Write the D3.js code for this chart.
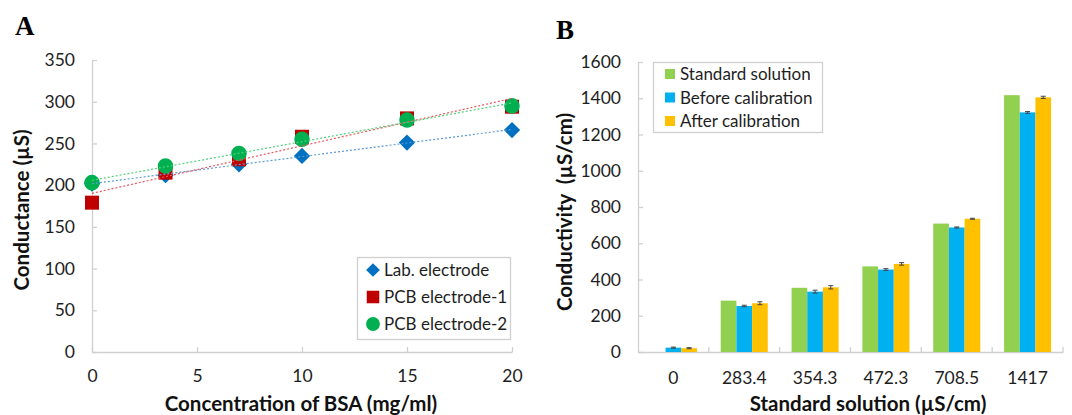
<!DOCTYPE html>
<html>
<head>
<meta charset="utf-8">
<script src="https://cdn.jsdelivr.net/npm/d3@7"></script>
<style>
  body { margin: 0; background: #fff; }
  svg { display: block; }
</style>
</head>
<body>
<div id="chart"></div>
<script>
// ---- data: panel A (conductance vs BSA) ----
const bsaConc = [0, 3.5, 7, 10, 15, 20];
const labElectrode = [202, 212, 225, 235, 251, 266];
const pcbElectrode1 = [179, 215, 231, 258, 280, 294];
const pcbElectrode2 = [203, 223, 238, 255, 278, 295];
const aTicksX = [0, 5, 10, 15, 20];
const aTicksY = [0, 50, 100, 150, 200, 250, 300, 350];

// ---- data: panel B (conductivity bars) ----
const standards = ["0", "283.4", "354.3", "472.3", "708.5", "1417"];
const standardVals = [0, 283.4, 354.3, 472.3, 708.5, 1417];
const beforeVals = [24, 254, 333, 455, 687, 1322];
const afterVals = [21, 269, 357, 486, 735, 1405];
const beforeErr = [3, 4, 8, 5, 3, 5];
const afterErr = [3, 8, 9, 7, 3, 6];
const bSeries = ["Standard solution", "Before calibration", "After calibration"];
const bTicksY = [0, 200, 400, 600, 800, 1000, 1200, 1400, 1600];

const W = 1072, H = 415;
const axisColor = "#d0d0d0";
const labelColor = "#1e1e1e";
const sans = "Lato, 'Open Sans', sans-serif";
const serif = "'Liberation Serif', 'DejaVu Serif', serif";

const svg = d3.select("#chart").append("svg")
    .attr("width", W)
    .attr("height", H)
    .style("font-family", sans);

// 軸のスタイルを揃える
function style_axis(g){
    g.select(".domain").attr("stroke", axisColor).attr("stroke-width", 1.3);
    g.selectAll(".tick line").attr("stroke", axisColor).attr("stroke-width", 1.3);
    g.selectAll(".tick text").attr("fill", labelColor).attr("font-size", 17.5)
        .attr("font-family", sans);
}

// 線形近似(トレンドライン)
function linfit(xs, ys){
    const n = xs.length;
    const mx = d3.mean(xs), my = d3.mean(ys);
    let sxy = 0, sxx = 0;
    for (let i = 0; i < n; i++){
        sxy += (xs[i]-mx)*(ys[i]-my);
        sxx += (xs[i]-mx)*(xs[i]-mx);
    }
    const b = sxy/sxx;
    return { a: my - b*mx, b: b };
}

// ================= Panel A =================
const ax = d3.scaleLinear().domain([0, 20]).range([92, 512]);
const ay = d3.scaleLinear().domain([0, 350]).range([352, 60]);

svg.append("g")
    .attr("transform", "translate(0,352)")
    .call(d3.axisBottom(ax).tickValues(aTicksX).tickSizeInner(-5).tickSizeOuter(0).tickPadding(18))
    .call(style_axis);
svg.append("g")
    .attr("transform", "translate(92,0)")
    .call(d3.axisLeft(ay).tickValues(aTicksY).tickSizeInner(-5).tickSizeOuter(0).tickPadding(17))
    .call(style_axis);

const aSeries = [
    { name: "Lab. electrode", vals: labElectrode, color: "#0070c0", trend: "#5b9bd5", shape: d3.symbolDiamond2, size: 170, lsize: 120 },
    { name: "PCB electrode-1", vals: pcbElectrode1, color: "#c00000", trend: "#e8575a", shape: d3.symbolSquare2, size: 250, lsize: 200 },
    { name: "PCB electrode-2", vals: pcbElectrode2, color: "#00b050", trend: "#4fd27a", shape: d3.symbolCircle, size: 190, lsize: 150 }
];

aSeries.forEach(function(s){
    const g = svg.append("g");
    g.selectAll("path.pt")
        .data(bsaConc.map((x, i) => [x, s.vals[i]]))
        .enter()
        .append("path")
        .attr("class", "pt")
        .attr("d", d3.symbol().type(s.shape).size(s.size))
        .attr("transform", d => "translate(" + ax(d[0]) + "," + ay(d[1]) + ")")
        .attr("fill", s.color);
});
// trendlines drawn over the markers
aSeries.forEach(function(s){
    const f = linfit(bsaConc, s.vals);
    svg.append("line")
        .attr("x1", ax(0)).attr("y1", ay(f.a))
        .attr("x2", ax(20)).attr("y2", ay(f.a + f.b*20))
        .attr("stroke", s.trend)
        .attr("stroke-width", 1.2)
        .attr("stroke-dasharray", "2,2");
});

// legend A
const legA = svg.append("g");
legA.append("rect")
    .attr("x", 357.5).attr("y", 257.5).attr("width", 153).attr("height", 82)
    .attr("fill", "#fff").attr("stroke", axisColor).attr("stroke-width", 1.3);
aSeries.forEach(function(s, i){
    const cy = 270 + i*27;
    legA.append("path")
        .attr("d", d3.symbol().type(s.shape).size(s.lsize))
        .attr("transform", "translate(373," + cy + ")")
        .attr("fill", s.color);
    legA.append("text")
        .attr("x", 384).attr("y", cy)
        .attr("dy", "0.36em")
        .attr("font-size", 17)
        .attr("fill", labelColor)
        .text(s.name);
});

// axis titles A
svg.append("text")
    .attr("transform", "translate(29,210) rotate(-90)")
    .attr("text-anchor", "middle")
    .attr("font-size", 20.5).attr("font-weight", "bold").attr("fill", "#111")
    .text("Conductance (µS)");
svg.append("text")
    .attr("x", 301).attr("y", 411)
    .attr("text-anchor", "middle")
    .attr("font-size", 20.5).attr("font-weight", "bold").attr("fill", "#111")
    .text("Concentration of BSA (mg/ml)");
svg.append("text")
    .attr("x", 15).attr("y", 35)
    .style("font-family", serif)
    .attr("font-size", 27).attr("font-weight", "bold")
    .text("A");

// ================= Panel B =================
const bx0 = d3.scaleBand().domain(standards).range([638, 1063]).paddingInner(0.336).paddingOuter(0.168);
const bx1 = d3.scaleBand().domain(bSeries).range([0, bx0.bandwidth()]);
const by = d3.scaleLinear().domain([0, 1600]).range([352, 62]);
const bColors = d3.scaleOrdinal().domain(bSeries).range(["#92d050", "#00b0f0", "#ffc000"]);

// category boundary ticks
const bxAxis = svg.append("g")
    .attr("transform", "translate(0,352)")
    .call(d3.axisBottom(bx0).tickSize(0).tickPadding(20))
    .call(style_axis);
const step = bx0.step();
bxAxis.selectAll("line.sep")
    .data(d3.range(standards.length))
    .enter()
    .append("line")
    .attr("class", "sep")
    .attr("x1", i => 638 + step*(i+1))
    .attr("x2", i => 638 + step*(i+1))
    .attr("y1", 0).attr("y2", -5)
    .attr("stroke", axisColor).attr("stroke-width", 1.3);

svg.append("g")
    .attr("transform", "translate(638,0)")
    .call(d3.axisLeft(by).tickValues(bTicksY).tickFormat(d3.format("d")).tickSizeInner(-5).tickSizeOuter(0).tickPadding(17))
    .call(style_axis);

const bRows = standards.map((c, i) => ({
    cat: c,
    bars: [
        { key: bSeries[0], v: standardVals[i], e: 0 },
        { key: bSeries[1], v: beforeVals[i], e: beforeErr[i] },
        { key: bSeries[2], v: afterVals[i], e: afterErr[i] }
    ]
}));

const groups = svg.append("g").selectAll("g.grp")
    .data(bRows)
    .enter()
    .append("g")
    .attr("class", "grp")
    .attr("transform", d => "translate(" + bx0(d.cat) + ",0)");

groups.selectAll("rect")
    .data(d => d.bars)
    .enter()
    .append("rect")
    .attr("x", d => bx1(d.key))
    .attr("y", d => by(d.v))
    .attr("width", bx1.bandwidth())
    .attr("height", d => by(0) - by(d.v))
    .attr("fill", d => bColors(d.key));

// error bars
const eb = groups.selectAll("g.err")
    .data(d => d.bars.filter(b => b.e > 0))
    .enter()
    .append("g")
    .attr("class", "err")
    .attr("stroke", "#444")
    .attr("stroke-width", 1);
eb.append("line")
    .attr("x1", d => bx1(d.key) + bx1.bandwidth()/2)
    .attr("x2", d => bx1(d.key) + bx1.bandwidth()/2)
    .attr("y1", d => by(d.v + d.e))
    .attr("y2", d => by(d.v - d.e));
["+", "-"].forEach(function(sign){
    eb.append("line")
        .attr("x1", d => bx1(d.key) + bx1.bandwidth()/2 - 2.5)
        .attr("x2", d => bx1(d.key) + bx1.bandwidth()/2 + 2.5)
        .attr("y1", d => by(sign === "+" ? d.v + d.e : d.v - d.e))
        .attr("y2", d => by(sign === "+" ? d.v + d.e : d.v - d.e));
});

// legend B
const legB = svg.append("g");
legB.append("rect")
    .attr("x", 653.5).attr("y", 62.5).attr("width", 169).attr("height", 70)
    .attr("fill", "#fff").attr("stroke", axisColor).attr("stroke-width", 1.3);
bSeries.forEach(function(s, i){
    const cy = 74 + i*23.5;
    legB.append("rect")
        .attr("x", 665).attr("y", cy - 5).attr("width", 10).attr("height", 10)
        .attr("fill", bColors(s));
    legB.append("text")
        .attr("x", 680).attr("y", cy)
        .attr("dy", "0.36em")
        .attr("font-size", 17)
        .attr("fill", labelColor)
        .text(s);
});

// axis titles B
svg.append("text")
    .attr("transform", "translate(572,212) rotate(-90)")
    .attr("text-anchor", "middle")
    .attr("font-size", 20.5).attr("font-weight", "bold").attr("fill", "#111")
    .style("white-space", "pre")
    .text("Conductivity  (µS/cm)");
svg.append("text")
    .attr("x", 868).attr("y", 411)
    .attr("text-anchor", "middle")
    .attr("font-size", 20.5).attr("font-weight", "bold").attr("fill", "#111")
    .text("Standard solution (µS/cm)");
svg.append("text")
    .attr("x", 556).attr("y", 39)
    .style("font-family", serif)
    .attr("font-size", 27).attr("font-weight", "bold")
    .text("B");
</script>
</body>
</html>
